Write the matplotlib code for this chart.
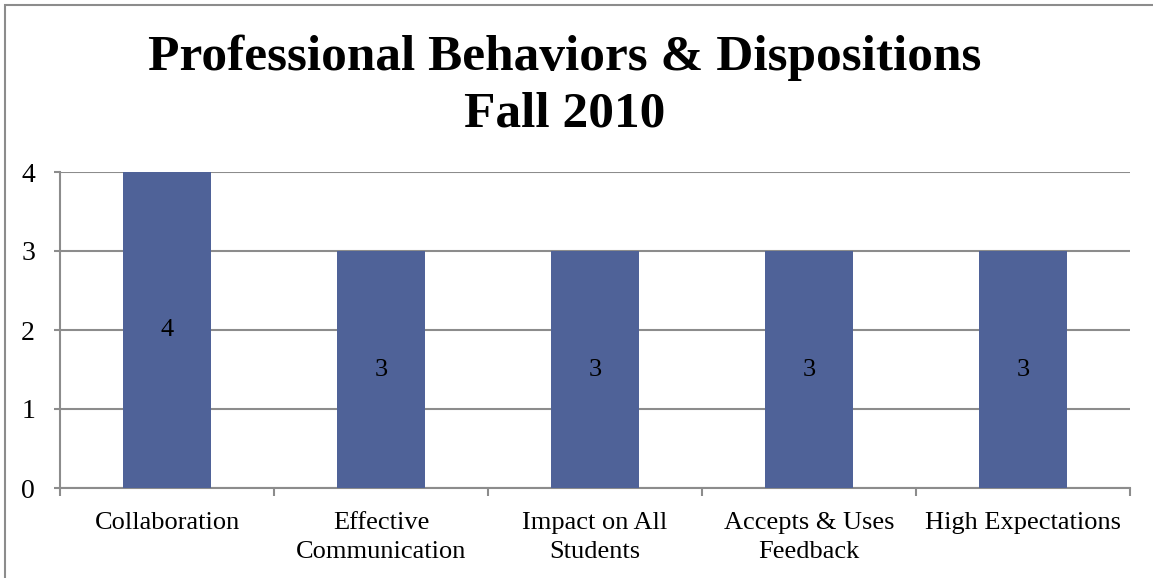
import matplotlib.pyplot as plt
import matplotlib.patches as patches
import numpy as np

# Scores per disposition
categories = ['Collaboration', 'Effective\nCommunication', 'Impact on All\nStudents',
              'Accepts & Uses\nFeedback', 'High Expectations']
scores = [4, 3, 3, 3, 3]
yticks = [0, 1, 2, 3, 4]

plt.rcParams['font.family'] = ['Liberation Serif', 'DejaVu Serif']

fig = plt.figure(figsize=(11.53, 5.78), dpi=100)
ax = fig.add_axes([60/1153, 1 - 488/578, 1070/1153, 316/578])

x = np.arange(len(categories))
bar_color = '#4f6298'
ax.bar(x, scores, width=0.41, color=bar_color, zorder=3)

# value labels sit in the middle of each bar
for xi, v in zip(x, scores):
    ax.text(xi, v / 2, str(v), ha='center', va='center', fontsize=19, color='black', zorder=4)

ax.set_xlim(-0.5, len(categories) - 0.5)
ax.set_ylim(0, 4)
ax.set_yticks(yticks)
ax.set_yticklabels([str(t) for t in yticks], fontsize=20)
ax.yaxis.grid(True, color='#8c8c8c', linewidth=1.5, zorder=0)

ax.set_xticks(x)
ax.set_xticklabels(categories, fontsize=19, linespacing=1.45)
ax.tick_params(axis='x', length=0, pad=17)
# tick marks between categories
ax.set_xticks(np.arange(-0.5, len(categories)), minor=True)
ax.tick_params(axis='x', which='minor', length=6, width=1.5, color='#8c8c8c')
ax.tick_params(axis='y', length=4, width=1.5, color='#8c8c8c', pad=14)

for side in ['top', 'right']:
    ax.spines[side].set_visible(False)
for side in ['left', 'bottom']:
    ax.spines[side].set_color('#8c8c8c')
    ax.spines[side].set_linewidth(1.5)

fig.text(565/1153, 1 - 86/578, 'Professional Behaviors & Dispositions\nFall 2010',
         ha='center', va='center', fontsize=37, fontweight='bold', linespacing=1.3)

# outer frame of the chart area
frame = patches.Rectangle((5/1153, -0.1), 1.2, 1 - 5/578 + 0.1, transform=fig.transFigure,
                          fill=False, edgecolor='#8c8c8c', linewidth=1.5)
fig.patches.append(frame)

fig.savefig('out.png', dpi=100)
